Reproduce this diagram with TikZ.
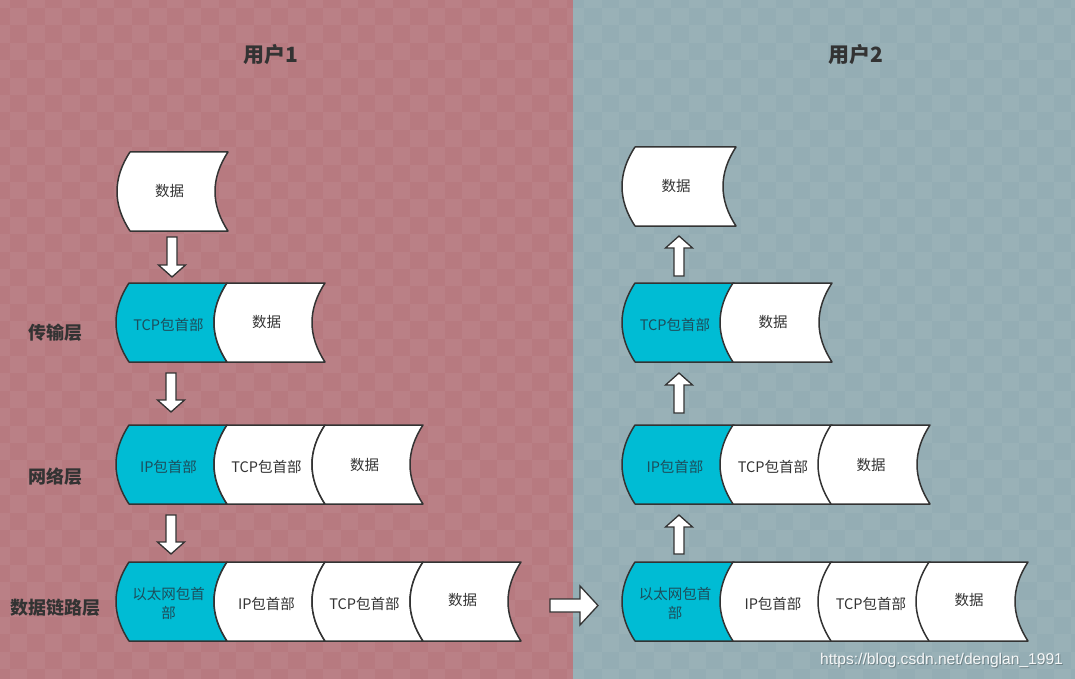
\documentclass[tikz,border=0pt]{standalone}
\usepackage{fontspec}
\setmainfont{Noto Sans CJK SC}
\newfontfamily\wmfont{Liberation Sans}
\usetikzlibrary{calc}
\definecolor{leftbg}{RGB}{183,122,128}
\definecolor{rightbg}{RGB}{148,173,180}
\definecolor{cyanfill}{RGB}{0,188,212}
\definecolor{outline}{RGB}{51,51,51}
\definecolor{txt}{RGB}{51,51,51}
\definecolor{cyantxt}{RGB}{28,78,92}
\tikzset{
  cellbox/.style={draw=outline, line width=1.5pt, line join=round},
  celltext/.style={text=txt, font=\fontsize{14.5}{19}\selectfont, align=center, inner sep=0pt},
  hdrtext/.style={celltext, yshift=-2pt},
  uptext/.style={celltext, yshift=1.5pt},
  cyantext/.style={celltext, text=cyantxt, yshift=-2pt},
  blockarrow/.style={draw=outline, fill=white, line width=1.3pt, line join=miter},
  title/.style={text=txt, font=\fontsize{21}{24}\selectfont\bfseries, inner sep=0pt},
  layer/.style={text=txt, font=\fontsize{18}{21}\selectfont\bfseries, inner sep=0pt},
}
% #1 x0, #2 y0, #3 width, #4 fill, #5 name, #6 text style, #7 text
\newcommand\datacell[7]{%
  \pgfmathsetmacro\cxa{#1+13}%
  \pgfmathsetmacro\cxb{#1+#3}%
  \pgfmathsetmacro\cxc{#1+#3-17.33}%
  \pgfmathsetmacro\cxd{#1-4.33}%
  \pgfmathsetmacro\cya{#2+26.33}%
  \pgfmathsetmacro\cyb{#2+52.67}%
  \pgfmathsetmacro\cyc{#2+79}%
  \filldraw[cellbox, fill=#4] (\cxa,#2) -- (\cxb,#2)
     .. controls (\cxc,\cya) and (\cxc,\cyb) .. (\cxb,\cyc)
     -- (\cxa,\cyc)
     .. controls (\cxd,\cyb) and (\cxd,\cya) .. (\cxa,#2) -- cycle;
  \pgfmathsetmacro\tx{#1+#3/2-3}%
  \pgfmathsetmacro\ty{#2+39.5}%
  \node[#6] (#5) at (\tx,\ty) {#7};
}
% vertical block arrow: #1 cx, #2 tail y, #3 tip y
\newcommand\varrow[3]{%
  \pgfmathsetmacro\hy{#3-12*sign(#3-#2)}%
  \draw[blockarrow] ({#1-5},#2) -- ({#1+5},#2) -- ({#1+5},\hy) -- ({#1+13.5},\hy)
     -- (#1,#3) -- ({#1-13.5},\hy) -- ({#1-5},\hy) -- cycle;
}
\begin{document}
\begin{tikzpicture}[x=1pt,y=-1pt]
\useasboundingbox (0,0) rectangle (1075,679);
\fill[leftbg] (0,0) rectangle (573,679);
\fill[rightbg] (573,0) rectangle (1075,679);
\foreach \i in {0,...,62}{
  \foreach \j in {0,...,39}{
    \pgfmathtruncatemacro\m{mod(\i+\j,2)}
    \ifnum\m=0
      \fill[white, opacity=0.05] ({-7.4+\i*17.4},{-9.4+\j*17.4}) rectangle ++(17.4,17.4);
    \fi
  }
}
% titles
\node[title] (u1) at (271,55) {用户1};
\node[title] (u2) at (856,55) {用户2};
% layer labels
\node[layer] (l1) at (55,333) {传输层};
\node[layer] (l2) at (55,477) {网络层};
\node[layer] (l3) at (55,608) {数据链路层};
% ---------- user 1 ----------
\datacell{117}{152}{111}{white}{a0}{celltext}{数据}
\datacell{116}{283}{111}{cyanfill}{a1h}{cyantext}{TCP包首部}
\datacell{214}{283}{111}{white}{a1d}{celltext}{数据}
\datacell{116}{425}{111}{cyanfill}{a2h}{cyantext}{IP包首部}
\datacell{214}{425}{111}{white}{a2t}{hdrtext}{TCP包首部}
\datacell{312}{425}{111}{white}{a2d}{celltext}{数据}
\datacell{116}{562}{111}{cyanfill}{a3h}{cyantext}{以太网包首\\部}
\datacell{214}{562}{111}{white}{a3i}{hdrtext}{IP包首部}
\datacell{312}{562}{111}{white}{a3t}{hdrtext}{TCP包首部}
\datacell{410}{562}{111}{white}{a3d}{uptext}{数据}
% ---------- user 2 ----------
\datacell{622}{147}{114}{white}{b0}{celltext}{数据}
\datacell{622}{283}{112}{cyanfill}{b1h}{cyantext}{TCP包首部}
\datacell{720}{283}{112}{white}{b1d}{celltext}{数据}
\datacell{622}{425}{112}{cyanfill}{b2h}{cyantext}{IP包首部}
\datacell{720}{425}{112}{white}{b2t}{hdrtext}{TCP包首部}
\datacell{818}{425}{112}{white}{b2d}{celltext}{数据}
\datacell{622}{562}{112}{cyanfill}{b3h}{cyantext}{以太网包首\\部}
\datacell{720}{562}{112}{white}{b3i}{hdrtext}{IP包首部}
\datacell{818}{562}{112}{white}{b3t}{hdrtext}{TCP包首部}
\datacell{916}{562}{112}{white}{b3d}{uptext}{数据}
% arrows user 1 (down)
\varrow{172}{237}{277}
\varrow{171}{373}{412}
\varrow{171}{515}{554}
% arrows user 2 (up)
\varrow{679}{276}{236}
\varrow{679}{413}{373}
\varrow{679}{554}{515}
% horizontal arrow
\draw[blockarrow] (550,599) -- (580,599) -- (580,586) -- (598,605.5) -- (580,625) -- (580,612) -- (550,612) -- cycle;
% watermark
\node[text=black, opacity=0.25, font=\wmfont\fontsize{15.6}{18}\selectfont, inner sep=0pt] at (942.5,661) {https://blog.csdn.net/denglan\_1991};
\node[text=white, opacity=0.92, font=\wmfont\fontsize{15.6}{18}\selectfont, inner sep=0pt] (wm) at (941.5,660) {https://blog.csdn.net/denglan\_1991};
\end{tikzpicture}
\end{document}
